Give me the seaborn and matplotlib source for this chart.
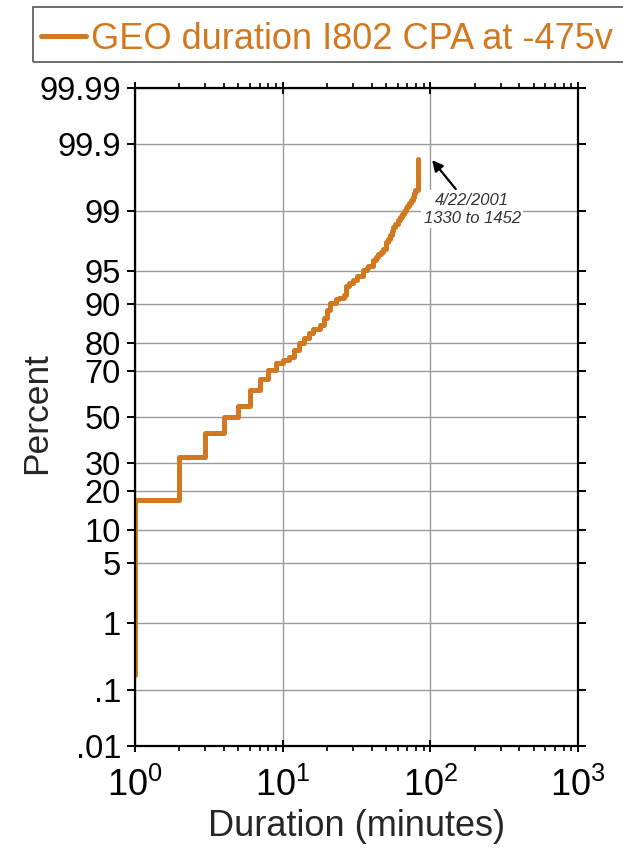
import math
from statistics import NormalDist
import numpy as np
import matplotlib
matplotlib.use("Agg")
import matplotlib.pyplot as plt
from matplotlib.patches import Rectangle
import seaborn as sns

# ---- data ----
durations = [1, 1, 2, 3, 4, 5, 6, 7, 8, 9, 10, 11, 12, 13, 14, 15, 16, 18, 19, 20,
             21, 23, 24, 26, 27, 28, 30, 32, 35, 37, 38, 41, 43, 44, 46, 48, 50,
             52, 53, 55, 56, 58, 60, 62, 64, 66, 68, 70, 72, 74, 76, 78, 79, 82]
percents = [0.18, 17.4, 32.7, 42.7, 49.9, 54.9, 62.0, 66.5, 70.2, 72.8, 74.0, 75.0,
            77.5, 79.9, 81.4, 82.9, 84.0, 85.0, 86.9, 88.7, 90.1, 90.8, 91.1, 91.6,
            93.1, 93.5, 93.9, 94.5, 95.2, 95.4, 95.6, 96.2, 96.5, 96.7, 96.9, 97.1,
            97.6, 97.8, 98.0, 98.2, 98.4, 98.55, 98.7, 98.8, 98.9, 99.0, 99.1, 99.15,
            99.22, 99.3, 99.36, 99.43, 99.48, 99.82]
series_label = "GEO duration I802 CPA at -475v"
y_ticks = [0.01, 0.1, 1, 5, 10, 20, 30, 50, 70, 80, 90, 95, 99, 99.9, 99.99]
y_ticklabels = [".01", ".1", "1", "5", "10", "20", "30", "50", "70", "80", "90",
                "95", "99", "99.9", "99.99"]
x_ticks = [1, 10, 100, 1000]
annot_text = "4/22/2001\n1330 to 1452"
annot_point = (100, 99.83)
annot_text_pos = (192, 99.06)

ORANGE = "#D2781E"

sns.set_style("ticks")
plt.rcParams["font.family"] = ["Liberation Sans", "DejaVu Sans"]
plt.rcParams["mathtext.fontset"] = "custom"
plt.rcParams["mathtext.rm"] = "Liberation Sans"
plt.rcParams["mathtext.it"] = "Liberation Sans:italic"

_nd = NormalDist()


def _ppf_scalar(p):
    if not np.isfinite(p):
        return np.nan
    p = min(max(p, 1e-12), 1 - 1e-12)
    return _nd.inv_cdf(p)


def _cdf_scalar(z):
    if not np.isfinite(z):
        return np.nan if np.isnan(z) else (1.0 if z > 0 else 0.0)
    return 0.5 * (1.0 + math.erf(z / math.sqrt(2)))


_ppf = np.vectorize(_ppf_scalar, otypes=[float])
_cdf = np.vectorize(_cdf_scalar, otypes=[float])


def fwd(p):
    return _ppf(np.asarray(p, dtype=float) / 100.0)


def inv(z):
    return 100.0 * _cdf(np.asarray(z, dtype=float))


W, H = 623, 849
fig = plt.figure(figsize=(W / 100, H / 100), dpi=100)
ax = fig.add_axes([135 / W, 1 - 746 / H, 443 / W, 658 / H])

sns.lineplot(x=durations, y=percents, estimator=None, sort=False,
             drawstyle="steps-post", color=ORANGE, linewidth=3.6, ax=ax,
             label=series_label, legend=False)

ax.set_xscale("log")
ax.set_yscale("function", functions=(fwd, inv))
ax.set_xlim(1, 1000)
ax.set_ylim(0.01, 99.99)

ax.set_yticks(y_ticks)
ax.set_yticklabels(y_ticklabels)
ax.yaxis.set_minor_locator(matplotlib.ticker.NullLocator())
ax.set_xticks(x_ticks)
ax.xaxis.set_minor_locator(matplotlib.ticker.LogLocator(base=10, subs=np.arange(2, 10)))
ax.xaxis.set_minor_formatter(matplotlib.ticker.NullFormatter())

ax.grid(True, which="major", color="#9a9a9a", linewidth=1.0)
ax.set_axisbelow(True)

for s in ax.spines.values():
    s.set_visible(True)
    s.set_linewidth(1.6)
    s.set_color("black")

ax.tick_params(axis="y", which="major", left=True, right=True, direction="out",
               length=6, width=1.4, labelsize=23.5, pad=4, colors="black")
ax.tick_params(axis="x", which="major", bottom=True, top=True, direction="inout",
               length=8, width=1.4, labelsize=26, pad=12, colors="black")
ax.tick_params(axis="x", which="minor", bottom=True, top=True, direction="out",
               length=3.5, width=1.2, colors="black")

ax.set_xlabel("Duration (minutes)", fontsize=26)
ax.xaxis.set_label_coords(0.5, -(826 - 746) / 658)
ax.xaxis.label.set_va("center")
ax.set_ylabel("Percent", fontsize=25.5)
ax.yaxis.set_label_coords((37 - 135) / 443, 0.506)
ax.yaxis.label.set_va("center")

ax.annotate(annot_text, xy=annot_point, xytext=annot_text_pos,
            textcoords="data", ha="center", va="center", fontsize=12,
            fontstyle="italic", color="#333333", linespacing=1.25,
            bbox=dict(boxstyle="square,pad=0.15", fc="white", ec="none"),
            arrowprops=dict(arrowstyle="-|>", color="black", lw=1.6,
                            mutation_scale=16, shrinkA=1, shrinkB=2))

# legend (border drawn separately so it runs off the right edge as in the original)
handles, labels = ax.get_legend_handles_labels()
leg = fig.legend(handles, labels, loc="upper left",
                 bbox_to_anchor=(41 / W, 1 - 22 / H), bbox_transform=fig.transFigure,
                 fontsize=26, frameon=False, borderpad=0,
                 handlelength=1.25, handletextpad=0.14, borderaxespad=0,
                 labelcolor=ORANGE)
fig.patches.append(Rectangle((33 / W, 1 - 62 / H), (660 - 33) / W, 55 / H,
                             transform=fig.transFigure, fill=False,
                             edgecolor="#555555", linewidth=1.2))

fig.savefig("out.png", dpi=100)
